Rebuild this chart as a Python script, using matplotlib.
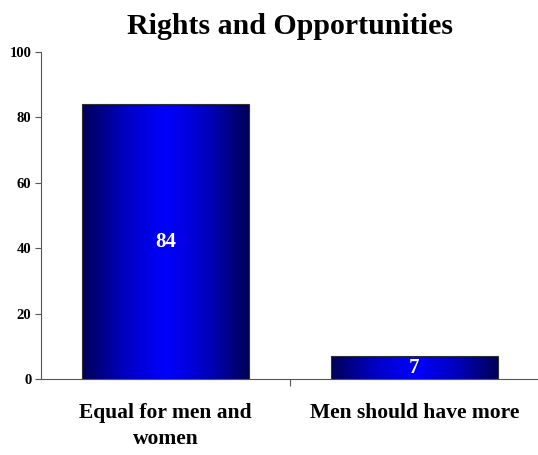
import numpy as np
import matplotlib
matplotlib.use("Agg")
import matplotlib.pyplot as plt
from matplotlib.colors import LinearSegmentedColormap

categories = ["Equal for men and\nwomen", "Men should have more"]
values = [84, 7]
yticks = [0, 20, 40, 60, 80, 100]
title = "Rights and Opportunities"

plt.rcParams["font.family"] = ["Liberation Serif", "DejaVu Serif"]

fig = plt.figure(figsize=(5.38, 4.55), dpi=100)
ax = fig.add_axes([41 / 538, 1 - 379 / 455, (539 - 41) / 538, (379 - 52) / 455])

x = np.arange(len(categories))
bars = ax.bar(x, values, width=0.667, color="none", edgecolor="#303030", linewidth=0.8, zorder=3)

# horizontal navy -> blue -> navy gradient inside each bar
cmap = LinearSegmentedColormap.from_list("bluebar", ["#000058", "#0000c0", "#0000ff", "#0000c0", "#000058"])
grad = np.linspace(0, 1, 256).reshape(1, -1)
for b in bars:
    x0, y0 = b.get_x(), b.get_y()
    w, h = b.get_width(), b.get_height()
    im = ax.imshow(grad, cmap=cmap, aspect="auto", extent=[x0, x0 + w, y0, y0 + h],
                   interpolation="bicubic", zorder=2)
    im.set_clip_path(b)

for xi, v in zip(x, values):
    ax.text(xi, v / 2, f"{v}", ha="center", va="center", color="white",
            fontsize=15, fontweight="bold", zorder=4)

ax.set_xlim(-0.5, 1.5)
ax.set_ylim(0, 100)
ax.set_yticks(yticks)
ax.set_yticklabels([str(t) for t in yticks], fontsize=10.5, fontweight="bold")
ax.set_xticks([0.5])
ax.set_xticklabels([""])
ax.tick_params(axis="y", length=4, width=0.8, color="#555555", pad=3)
ax.tick_params(axis="x", length=5, width=0.8, color="#555555", direction="out")
for xi, c in zip(x, categories):
    ax.text(xi, -0.072, c, transform=ax.get_xaxis_transform(), ha="center", va="top",
            fontsize=15.5, fontweight="bold", linespacing=1.45)

for s in ["top", "right"]:
    ax.spines[s].set_visible(False)
for s in ["left", "bottom"]:
    ax.spines[s].set_color("#555555")
    ax.spines[s].set_linewidth(0.8)

fig.text(290 / 538, 1 - 26 / 455, title, ha="center", va="center",
         fontsize=21.5, fontweight="bold")

fig.savefig("out.png", dpi=100)
